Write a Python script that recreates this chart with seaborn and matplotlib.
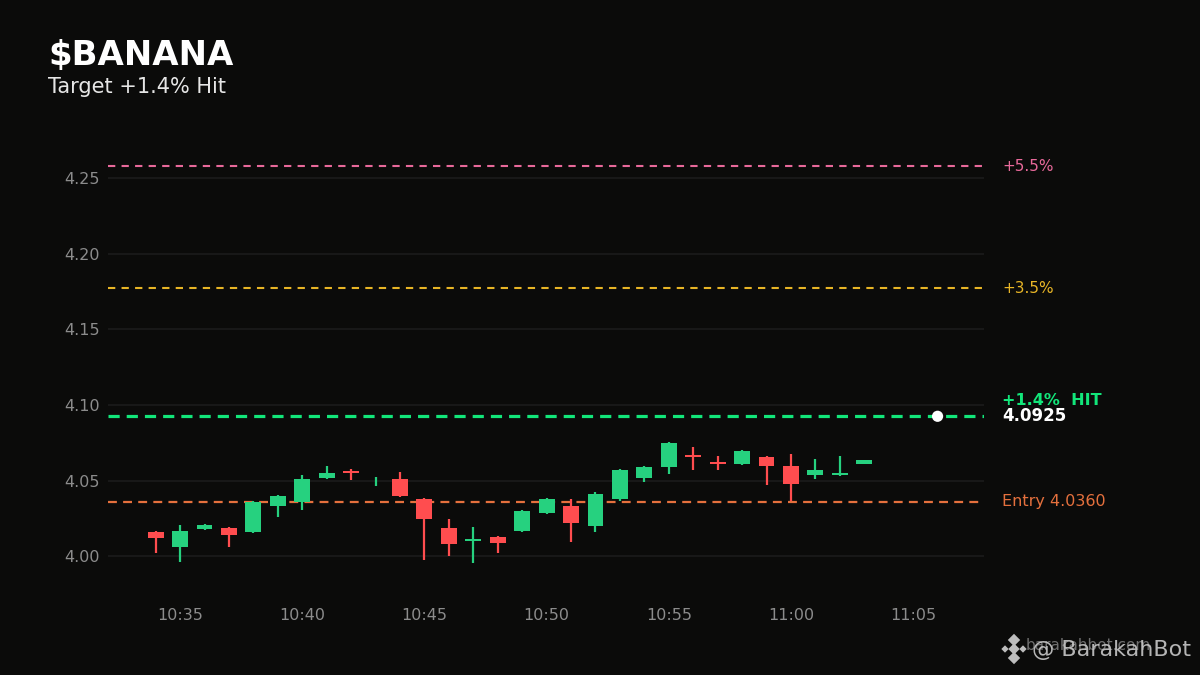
import pandas as pd
import numpy as np
import matplotlib
matplotlib.use("Agg")
import matplotlib.pyplot as plt
import matplotlib.dates as mdates
import matplotlib.transforms as mtransforms
import seaborn as sns

# candle data (1 minute bars)
times = pd.date_range("2024-01-01 10:34", "2024-01-01 11:03", freq="1min")
opens = [4.0159, 4.0062, 4.0181, 4.0185, 4.0161, 4.0333, 4.0360, 4.0519, 4.0560, 4.0495,
         4.0510, 4.0377, 4.0185, 4.0104, 4.0126, 4.0168, 4.0287, 4.0331, 4.0201, 4.0377,
         4.0519, 4.0591, 4.0669, 4.0618, 4.0611, 4.0656, 4.0596, 4.0538, 4.0540, 4.0612]
closes = [4.0121, 4.0166, 4.0205, 4.0141, 4.0358, 4.0397, 4.0510, 4.0550, 4.0555, 4.0495,
          4.0399, 4.0247, 4.0081, 4.0108, 4.0088, 4.0298, 4.0377, 4.0221, 4.0411, 4.0570,
          4.0589, 4.0748, 4.0659, 4.0614, 4.0695, 4.0598, 4.0479, 4.0570, 4.0549, 4.0635]
highs = [4.0166, 4.0205, 4.0212, 4.0192, 4.0364, 4.0404, 4.0536, 4.0596, 4.0576, 4.0523,
         4.0556, 4.0384, 4.0245, 4.0192, 4.0132, 4.0305, 4.0384, 4.0377, 4.0424, 4.0576,
         4.0596, 4.0755, 4.0722, 4.0662, 4.0702, 4.0662, 4.0675, 4.0642, 4.0662, 4.0635]
lows = [4.0022, 3.9962, 4.0174, 4.0062, 4.0154, 4.0260, 4.0307, 4.0510, 4.0505, 4.0466,
        4.0393, 3.9976, 4.0002, 3.9956, 4.0022, 4.0161, 4.0280, 4.0095, 4.0161, 4.0364,
        4.0492, 4.0545, 4.0571, 4.0571, 4.0605, 4.0472, 4.0366, 4.0512, 4.0532, 4.0612]

entry = 4.0360
level_labels = ["+5.5%", "+3.5%"]
level_pcts = [5.5, 3.5]
hit_pct = 1.4
hit_price = 4.0925
now_time = pd.Timestamp("2024-01-01 11:06")

BG = "#0b0b0a"
GREEN = "#26d17f"
RED = "#ff4d4f"
GRID = "#1b1b1b"
TICK = "#8c8c8c"
LEVEL_COLORS = ["#e8699a", "#e8b526"]
ENTRY_COLOR = "#e5703d"
HIT_COLOR = "#12e67a"

sns.set_theme(style="dark", rc={
    "figure.facecolor": BG, "axes.facecolor": BG, "savefig.facecolor": BG,
    "axes.edgecolor": BG, "grid.color": GRID,
})
plt.rcParams["font.family"] = ["DejaVu Sans"]

df = pd.DataFrame({"time": times, "open": opens, "close": closes, "high": highs, "low": lows})
df["up"] = df["close"] >= df["open"]
df["color"] = np.where(df["up"], GREEN, RED)

fig = plt.figure(figsize=(12, 6.75), dpi=100)
ax = fig.add_axes([0.09, 0.12, 0.73, 0.661])

# target and entry lines
tr = mtransforms.blended_transform_factory(ax.transAxes, ax.transData)
for lbl, pct, col in zip(level_labels, level_pcts, LEVEL_COLORS):
    y = entry * (1 + pct / 100)
    ax.axhline(y, color=col, lw=1.5, ls=(0, (3.5, 3)), zorder=1)
    ax.text(1.0205, y, lbl, color=col, fontsize=11, va="center", ha="left", transform=tr)
ax.axhline(entry, color=ENTRY_COLOR, lw=1.6, ls=(0, (4, 2.8)), zorder=1)
ax.axhline(hit_price, color=HIT_COLOR, lw=2.3, ls=(0, (3.5, 2.2)), zorder=1)
ax.text(1.0205, entry, f"Entry {entry:.4f}", color=ENTRY_COLOR, fontsize=11.5,
        va="center", ha="left", transform=tr)
ax.text(1.0205, hit_price + 0.0103, f"+{hit_pct}%  HIT", color=HIT_COLOR, fontsize=11.5,
        fontweight="bold", va="center", ha="left", transform=tr)
ax.text(1.0205, hit_price, f"{hit_price:.4f}", color="white", fontsize=12,
        fontweight="bold", va="center", ha="left", transform=tr)

# candles
w = 0.65 / 1440
x = mdates.date2num(df["time"])
ax.vlines(x, df["low"], df["high"], colors=df["color"], lw=1.6, zorder=2)
body_lo = np.minimum(df["open"], df["close"])
body_h = np.abs(df["close"] - df["open"])
# dojis still get a hairline body (unless open == close exactly)
body_h = np.where((body_h > 0) & (body_h < 0.0009), 0.0009, body_h)
body_lo = np.where(body_h == 0.0009, (df["open"] + df["close"]) / 2 - 0.00045, body_lo)
ax.bar(x, body_h, bottom=body_lo, width=w, color=df["color"], lw=0, zorder=3)

sns.scatterplot(x=[mdates.date2num(now_time)], y=[hit_price], color="white", s=65,
                edgecolor="none", ax=ax, zorder=5)

ax.set_xlim(mdates.date2num(pd.Timestamp("2024-01-01 10:32:03")),
            mdates.date2num(pd.Timestamp("2024-01-01 11:07:54")))
ax.set_ylim(3.975, 4.27)
ax.set_yticks([4.00, 4.05, 4.10, 4.15, 4.20, 4.25])
ax.yaxis.set_major_formatter(matplotlib.ticker.FormatStrFormatter("%.2f"))
ax.xaxis.set_major_locator(mdates.MinuteLocator(byminute=range(0, 60, 5)))
ax.xaxis.set_major_formatter(mdates.DateFormatter("%H:%M"))
ax.grid(axis="y", color=GRID, lw=1.2)
ax.grid(axis="x", visible=False)
ax.tick_params(colors=TICK, labelsize=11.5, length=0, pad=10)
ax.tick_params(axis="y", pad=6)
for s in ax.spines.values():
    s.set_visible(False)
ax.set_xlabel("")
ax.set_ylabel("")

fig.text(48 / 1200, 1 - 56 / 675, "$BANANA", color="white", fontsize=24.5,
         fontweight="bold", va="center", ha="left")
fig.text(48 / 1200, 1 - 87 / 675, "Target +1.4% Hit", color="#e6e6e6", fontsize=15,
         va="center", ha="left")

# watermark
fig.text(1026 / 1200, 1 - 646 / 675, "barakahbot.com", color="#6e6e6e", fontsize=11,
         va="center", ha="left")
fig.text(1191 / 1200, 1 - 650 / 675, "@ BarakahBot", color="#c8c8c8", fontsize=16,
         va="center", ha="right", alpha=0.9)
logo = fig.add_axes([0, 0, 1, 1], facecolor="none")
logo.set_xlim(0, 1200)
logo.set_ylim(675, 0)
logo.axis("off")
lx, ly = 1014, 649
logo.scatter([lx, lx - 9, lx + 9, lx, lx], [ly, ly, ly, ly - 9, ly + 9], marker="D",
             s=[34, 14, 14, 40, 40], color="#bdbdbd", linewidths=0)

fig.savefig("out.png", dpi=100, facecolor=BG)
